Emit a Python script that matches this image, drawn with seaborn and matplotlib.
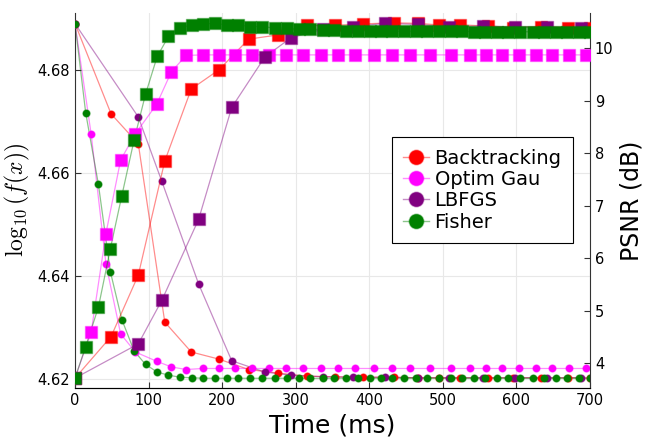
import numpy as np
import pandas as pd
import matplotlib
matplotlib.use('Agg')
import matplotlib.pyplot as plt
from matplotlib.lines import Line2D
from matplotlib.colors import to_rgba
import seaborn as sns

# Backtracking
bt_time = [0, 49, 86, 122, 158, 196, 236, 276, 315, 353, 392, 433, 466, 495, 524, 561, 595, 634, 670, 700]
bt_logf = [4.6890, 4.6715, 4.6657, 4.6311, 4.6253, 4.6239, 4.6219, 4.6212, 4.6206, 4.6205,
           4.6204, 4.6204, 4.6203, 4.6203, 4.6203, 4.6203, 4.6203, 4.6203, 4.6203, 4.6203]
bt_psnr = [3.72, 4.51, 5.68, 7.85, 9.22, 9.59, 10.17, 10.25, 10.43, 10.43,
           10.46, 10.48, 10.47, 10.44, 10.44, 10.42, 10.39, 10.41, 10.39, 10.38]

# Optim Gau
og_time = [0, 22, 42, 62, 82, 111, 131, 151, 174, 196, 218, 240, 264, 287, 310, 334,
           358, 381, 406, 431, 456, 483, 511, 537, 558, 581, 604, 627, 649, 672, 695]
og_logf = [4.6890, 4.6675, 4.6424, 4.6288, 4.6253, 4.6235, 4.6224, 4.6219, 4.6221, 4.6221,
           4.6221, 4.6221, 4.6221, 4.6221, 4.6221, 4.6221, 4.6221, 4.6221, 4.6221, 4.6221,
           4.6221, 4.6221, 4.6221, 4.6221, 4.6221, 4.6221, 4.6221, 4.6221, 4.6221, 4.6221, 4.6221]
og_psnr = [3.72, 4.60, 6.47, 7.87, 8.37, 8.93, 9.55, 9.86, 9.87, 9.87,
           9.87, 9.87, 9.87, 9.87, 9.87, 9.87, 9.87, 9.87, 9.87, 9.87,
           9.87, 9.87, 9.87, 9.87, 9.87, 9.87, 9.87, 9.87, 9.87, 9.87, 9.87]

# LBFGS
lb_time = [0, 86, 118, 168, 213, 258, 294, 337, 378, 422, 466, 509, 555, 598, 641, 688]
lb_logf = [4.6890, 4.6709, 4.6584, 4.6385, 4.6236, 4.6214, 4.6208, 4.6205, 4.6204, 4.6204,
           4.6203, 4.6203, 4.6203, 4.6203, 4.6203, 4.6203]
lb_psnr = [3.72, 4.37, 5.20, 6.74, 8.87, 9.83, 10.20, 10.36, 10.41, 10.47,
           10.45, 10.40, 10.42, 10.40, 10.40, 10.38]

# Fisher
fi_time = [0, 14.5, 31.8, 48, 63.6, 80.3, 95.8, 111.7, 127, 143, 159, 174, 190, 206.6, 222,
           238, 253.7, 272, 288, 304, 320, 336.8, 352.7, 368.6, 384.5, 400.4, 415.8, 431.3,
           447, 463.4, 478.9, 494.3, 510.6, 526, 542, 557.3, 573.3, 589.2, 604.6, 621.9,
           637.3, 653.2, 669, 684.5, 700]
fi_logf = [4.6890, 4.6717, 4.6578, 4.6409, 4.6316, 4.6255, 4.6229, 4.6214, 4.6208, 4.6204,
           4.6203, 4.6202, 4.6202, 4.6202, 4.6202, 4.6202, 4.6202, 4.6202, 4.6202, 4.6202,
           4.6202, 4.6202, 4.6202, 4.6202, 4.6202, 4.6202, 4.6202, 4.6202, 4.6202, 4.6202,
           4.6202, 4.6202, 4.6202, 4.6202, 4.6202, 4.6202, 4.6202, 4.6202, 4.6202, 4.6202,
           4.6202, 4.6202, 4.6202, 4.6202, 4.6202]
fi_psnr = [3.72, 4.32, 5.07, 6.18, 7.19, 8.25, 9.12, 9.84, 10.22, 10.39,
           10.44, 10.46, 10.47, 10.44, 10.44, 10.41, 10.41, 10.38, 10.38, 10.36,
           10.36, 10.35, 10.34, 10.33, 10.33, 10.33, 10.32, 10.32, 10.32, 10.32,
           10.32, 10.32, 10.32, 10.32, 10.31, 10.31, 10.31, 10.31, 10.31, 10.31,
           10.31, 10.31, 10.31, 10.31, 10.31]

series = [
    ('Backtracking', 'red', bt_time, bt_logf, bt_psnr),
    ('Optim Gau', 'magenta', og_time, og_logf, og_psnr),
    ('LBFGS', 'purple', lb_time, lb_logf, lb_psnr),
    ('Fisher', 'green', fi_time, fi_logf, fi_psnr),
]

plt.rcParams['mathtext.fontset'] = 'cm'

fig = plt.figure(figsize=(6.64, 4.43), dpi=100)
ax = fig.add_axes([0.113, 0.124, 0.7755, 0.847])
ax2 = ax.twinx()

for name, col, t, lf, ps in series:
    df = pd.DataFrame({'t': t, 'logf': lf, 'psnr': ps})
    sns.lineplot(data=df, x='t', y='logf', ax=ax, color=col, alpha=0.45, lw=0.9,
                 sort=False, estimator=None, legend=False)
    sns.scatterplot(data=df, x='t', y='logf', ax=ax, color=col, s=28, marker='o',
                    edgecolor=to_rgba(col, 0.4), linewidth=0.8, legend=False, zorder=3)
    sns.lineplot(data=df, x='t', y='psnr', ax=ax2, color=col, alpha=0.45, lw=0.9,
                 sort=False, estimator=None, legend=False)
    sns.scatterplot(data=df, x='t', y='psnr', ax=ax2, color=col, s=68, marker='s',
                    edgecolor=to_rgba(col, 0.4), linewidth=1.0, legend=False, zorder=3)

ax.set_xlim(0, 700)
ax.set_ylim(4.6183, 4.6911)
ax2.set_ylim(3.53, 10.67)
ax.set_xticks(range(0, 701, 100))
ax.set_yticks([4.62, 4.64, 4.66, 4.68])
ax2.set_yticks(range(4, 11))

ax.grid(True, color='#e8e8e8', lw=0.8)
ax.set_axisbelow(True)
ax2.grid(False)

for a in (ax, ax2):
    a.spines['top'].set_visible(False)
    a.tick_params(direction='in', length=4, labelsize=10.5, color='#333333')
ax.spines['right'].set_visible(False)
ax2.spines['left'].set_visible(False)
for sp in ('left', 'bottom'):
    ax.spines[sp].set_color('#333333')
ax2.spines['right'].set_color('#333333')

ax.set_xlabel('Time (ms)', fontsize=18)
ax.set_ylabel(r'$\log_{10}(f(x))$', fontsize=17)
ax2.set_ylabel('PSNR (dB)', fontsize=17)

handles = [Line2D([0], [0], color=to_rgba(col, 0.45), lw=1, marker='o', markersize=10.5,
                  markerfacecolor=col, markeredgecolor=to_rgba(col, 0.4))
           for _, col, *_ in series]
labels = [s[0] for s in series]
leg = ax2.legend(handles, labels, loc='upper left', bbox_to_anchor=(0.590, 0.691),
                 bbox_transform=fig.transFigure, fontsize=14, frameon=True, fancybox=False,
                 edgecolor='black', framealpha=1, handlelength=1.3, labelspacing=0.12,
                 borderpad=0.6, handletextpad=0.3, borderaxespad=0)
leg.get_frame().set_linewidth(0.8)

fig.savefig('out.png', dpi=100)
